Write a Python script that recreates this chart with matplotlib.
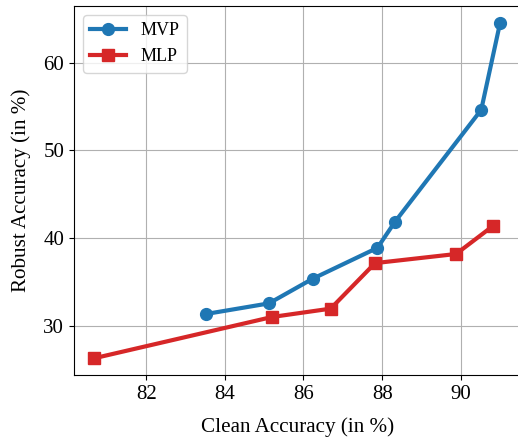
import matplotlib
matplotlib.use("Agg")
import matplotlib.pyplot as plt

mvp_clean = [83.52, 85.12, 86.23, 87.88, 88.33, 90.52, 91.0]
mvp_robust = [31.36, 32.57, 35.37, 38.9, 41.89, 54.63, 64.55]
mlp_clean = [80.68, 85.2, 86.69, 87.82, 89.88, 90.82]
mlp_robust = [26.32, 31.02, 31.97, 37.16, 38.2, 41.4]

plt.rcParams['font.family'] = ['Liberation Serif', 'DejaVu Serif']

fig = plt.figure(figsize=(5.18, 4.38), dpi=100)
ax = fig.add_axes([74/518, 63/438, (520.4-74)/518, (375-6)/438])

ax.plot(mvp_clean, mvp_robust, color='#1f77b4', marker='o', lw=3, ms=8.5, label='MVP', zorder=3)
ax.plot(mlp_clean, mlp_robust, color='#d62728', marker='s', lw=3, ms=8.5, label='MLP', zorder=3)

ax.grid(True, color='#b0b0b0', lw=0.8)
ax.set_axisbelow(True)
ax.set_xticks([82, 84, 86, 88, 90])
ax.set_yticks([30, 40, 50, 60])
ax.tick_params(labelsize=15, length=3.5)
ax.set_xlabel('Clean Accuracy (in %)', fontsize=15.2, labelpad=10)
ax.set_ylabel('Robust Accuracy (in %)', fontsize=15.2, labelpad=9)
ax.legend(loc='upper left', fontsize=13)

fig.savefig('out.png', dpi=100)
